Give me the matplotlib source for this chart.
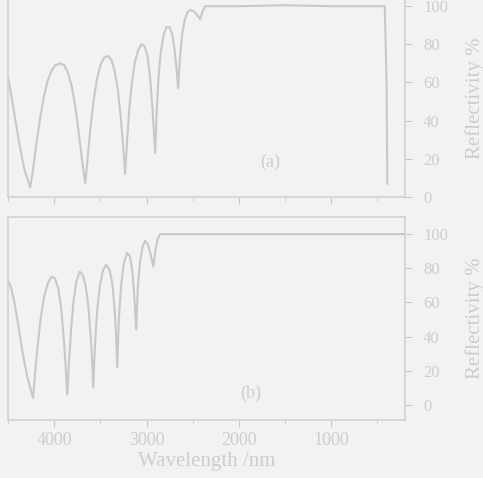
import numpy as np
import matplotlib
matplotlib.use("Agg")
import matplotlib.pyplot as plt
from matplotlib.ticker import MultipleLocator

plt.rcParams["font.family"] = ["Liberation Serif", "DejaVu Serif"]

# panel (a): wavelength (nm) and reflectivity (%)
wl_a = [4500, 4470, 4420, 4370, 4320, 4260,
        4230, 4190, 4150, 4110, 4070, 4030, 3990, 3940, 3890, 3850, 3810,
        3770, 3730, 3700, 3664,
        3640, 3610, 3575, 3540, 3500, 3460, 3420, 3380, 3345, 3310, 3280,
        3255, 3231,
        3210, 3185, 3155, 3125, 3090, 3055, 3020, 2990, 2960, 2935, 2906,
        2890, 2870, 2845, 2815, 2785, 2750, 2720, 2695, 2675, 2657,
        2640, 2615, 2585, 2555, 2520, 2480, 2445, 2418,
        2395, 2364, 2000, 1500, 1000, 600, 420, 400, 392]
r_a = [63, 55, 40, 26, 14, 5,
       14, 29, 42, 53, 61, 66, 69, 70, 69, 65, 58,
       47, 32, 20, 7,
       19, 35, 50, 61, 69, 73, 74, 72, 66, 56, 42,
       28, 12,
       30, 47, 61, 71, 77, 80, 79, 74, 62, 46, 23,
       45, 63, 76, 85, 89, 89, 85, 77, 67, 57,
       72, 85, 93, 97, 98, 97, 95, 93,
       97, 100, 100, 100.5, 100, 100, 100, 60, 7]

# panel (b)
wl_b = [4500, 4470, 4430, 4390, 4340, 4290, 4228,
        4205, 4175, 4145, 4110, 4070, 4030, 3990, 3955, 3925, 3895, 3875,
        3859,
        3840, 3815, 3790, 3760, 3725, 3690, 3660, 3630, 3605, 3590, 3577,
        3560, 3535, 3505, 3470, 3435, 3400, 3370, 3345, 3330, 3317,
        3300, 3275, 3245, 3210, 3180, 3155, 3135, 3112,
        3095, 3070, 3040, 3015, 2985, 2955, 2927,
        2905, 2880, 2852, 1500, 210]
r_b = [73, 69, 60, 47, 30, 16, 4,
       20, 37, 51, 63, 71, 75, 74, 68, 57, 38, 22,
       6,
       25, 45, 61, 72, 78, 76, 70, 58, 40, 27, 10,
       33, 55, 70, 79, 82, 79, 71, 56, 41, 22,
       50, 70, 83, 89, 87, 79, 66, 44,
       68, 84, 93, 96, 94, 88, 81,
       90, 97, 100, 100, 100]

x_ticks = [4000, 3000, 2000, 1000]
y_ticks = [0, 20, 40, 60, 80, 100]

bg = "#f2f2f2"
ink = "#c8c8c8"
txt = "#cdcdcd"

fig = plt.figure(figsize=(4.83, 4.78), dpi=100, facecolor=bg)
ax_a = fig.add_axes([0.0166, 0.588, 0.822, 0.415])
ax_b = fig.add_axes([0.0166, 0.121, 0.822, 0.425])

for ax, wl, r in [(ax_a, wl_a, r_a), (ax_b, wl_b, r_b)]:
    ax.set_facecolor(bg)
    ax.plot(wl, r, color=ink, lw=1.5, solid_joinstyle="round")
    ax.set_xlim(4500, 200)
    ax.set_xticks(x_ticks)
    ax.xaxis.set_minor_locator(MultipleLocator(500))
    ax.set_yticks(y_ticks)
    ax.yaxis.tick_right()
    ax.yaxis.set_label_position("right")
    ax.set_ylabel("Reflectivity %", color=txt, fontsize=15, labelpad=12)
    ax.tick_params(axis="both", which="both", direction="out", colors=ink,
                   labelcolor=txt, labelsize=12)
    ax.tick_params(axis="y", pad=8)
    ax.tick_params(which="major", length=5)
    ax.tick_params(which="minor", length=3)
    for s in ax.spines.values():
        s.set_color("#d2d2d2")
        s.set_linewidth(1.2)

ax_a.set_ylim(0, 104)
ax_a.set_xticklabels([])
ax_a.text(1660, 18, "(a)", color=txt, fontsize=13, ha="center", va="center")

ax_b.set_ylim(-9, 110)
ax_b.tick_params(axis="x", labelsize=13)
ax_b.set_xlabel("Wavelength /nm", color=txt, fontsize=15, labelpad=2)
ax_b.text(1876, 7, "(b)", color=txt, fontsize=13, ha="center", va="center")

fig.savefig("out.png", dpi=100, facecolor=bg)
